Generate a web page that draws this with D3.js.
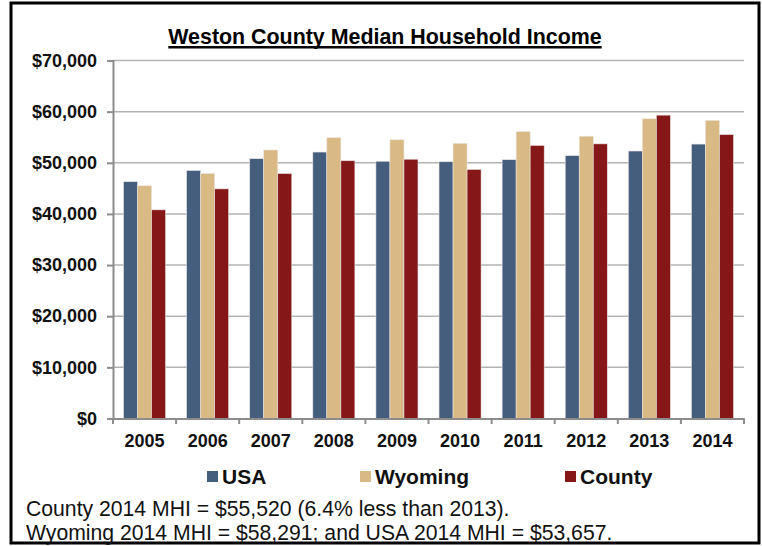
<!DOCTYPE html>
<html>
<head>
<meta charset="utf-8">
<script src="https://cdn.jsdelivr.net/npm/d3@7"></script>
<style>
  body { margin: 0; background: #fff; }
  svg { display: block; font-family: "Liberation Sans", Arial, sans-serif; }
</style>
</head>
<body>
<svg width="762" height="546"></svg>
<script>
const years = ["2005", "2006", "2007", "2008", "2009", "2010", "2011", "2012", "2013", "2014"];
const usa = [46300, 48500, 50800, 52100, 50300, 50200, 50600, 51400, 52300, 53657];
const wyoming = [45500, 47900, 52500, 54900, 54500, 53800, 56100, 55200, 58600, 58291];
const county = [40800, 44900, 47900, 50400, 50700, 48700, 53400, 53700, 59316, 55520];
const seriesNames = ["USA", "Wyoming", "County"];
const yTicks = [0, 10000, 20000, 30000, 40000, 50000, 60000, 70000];
const footnotes = [
    "County 2014 MHI = $55,520 (6.4% less than 2013).",
    "Wyoming 2014 MHI = $58,291; and USA 2014 MHI = $53,657."
];

const colors = ["#465E7E", "#D9B984", "#861719"];
const seriesValues = [usa, wyoming, county];

const svg = d3.select("svg");

// outer frame
svg.append("rect").attr("x", 11).attr("y", 3).attr("width", 748).attr("height", 540)
    .attr("fill", "none").attr("stroke", "#000").attr("stroke-width", 3);

const title = svg.append("text").attr("x", 385).attr("y", 44).attr("text-anchor", "middle")
    .attr("font-size", 21.4).attr("font-weight", "bold")
    .text("Weston County Median Household Income");
const tw = title.node().getComputedTextLength();
svg.append("line").attr("x1", 385 - tw / 2).attr("x2", 385 + tw / 2)
    .attr("y1", 47.3).attr("y2", 47.3)
    .attr("stroke", "#000").attr("stroke-width", 2.6);

let axisX = d3.scaleBand().domain(years).range([113, 744]);
let axisY = d3.scaleLinear().domain([0, 70000]).range([418.5, 60.5]);
let inner = d3.scaleBand().domain(seriesNames).range([0, axisX.bandwidth()])
    .paddingInner(0).paddingOuter(0.75);

// gridlines
svg.append("g").selectAll("line").data(yTicks.slice(1)).enter()
    .append("line")
    .attr("x1", 113).attr("x2", 744)
    .attr("y1", d => axisY(d)).attr("y2", d => axisY(d))
    .attr("stroke", "#b3b3b3").attr("stroke-width", 1.5);

// bars
const rows = [];
years.forEach((y, i) => {
    seriesNames.forEach((s, j) => rows.push({ year: y, series: s, value: seriesValues[j][i], j: j }));
});
svg.append("g").selectAll("rect").data(rows).enter()
    .append("rect")
    .attr("x", d => axisX(d.year) + inner(d.series))
    .attr("y", d => axisY(d.value))
    .attr("width", inner.bandwidth())
    .attr("height", d => axisY(0) - axisY(d.value))
    .attr("fill", d => colors[d.j])
    .attr("stroke", "#e8e4e0").attr("stroke-width", 0.6);

// axes
let leftAxis = d3.axisLeft(axisY).tickValues(yTicks).tickSize(6).tickPadding(10)
    .tickFormat(d => "$" + d3.format(",")(d));
const gy = svg.append("g").attr("transform", "translate(113,0)").call(leftAxis);
gy.select(".domain").attr("stroke", "#8c8c8c").attr("stroke-width", 2);
gy.selectAll(".tick line").attr("stroke", "#8c8c8c").attr("stroke-width", 2);
gy.selectAll("text").attr("font-size", 18).attr("font-weight", "bold").attr("fill", "#111")
    .attr("font-family", "Liberation Sans, Arial, sans-serif");

let bottomAxis = d3.axisBottom(axisX).tickSize(0).tickPadding(16);
const gx = svg.append("g").attr("transform", "translate(0,418.5)").call(bottomAxis);
gx.select(".domain").attr("stroke", "#8c8c8c").attr("stroke-width", 2);
gx.selectAll("text").attr("font-size", 18).attr("font-weight", "bold").attr("fill", "#111")
    .attr("font-family", "Liberation Sans, Arial, sans-serif");
// boundary ticks between categories
svg.append("g").selectAll("line").data(years.concat(["end"])).enter()
    .append("line")
    .attr("x1", (d, i) => 113 + i * axisX.step()).attr("x2", (d, i) => 113 + i * axisX.step())
    .attr("y1", 418.5).attr("y2", 424)
    .attr("stroke", "#8c8c8c").attr("stroke-width", 2);

// legend
const legendX = [207, 360, 565];
const lg = svg.append("g").selectAll("g").data(seriesNames).enter().append("g")
    .attr("transform", (d, i) => "translate(" + legendX[i] + ",471)");
lg.append("rect").attr("width", 11).attr("height", 11).attr("fill", (d, i) => colors[i]);
lg.append("text").attr("x", 15).attr("y", 13).attr("font-size", 21).attr("font-weight", "bold")
    .attr("fill", "#111").text(d => d);

// footnotes
svg.append("g").selectAll("text").data(footnotes).enter()
    .append("text")
    .attr("x", 26).attr("y", (d, i) => 516 + i * 23.5)
    .attr("font-size", 21.2).attr("fill", "#111")
    .text(d => d);
</script>
</body>
</html>
